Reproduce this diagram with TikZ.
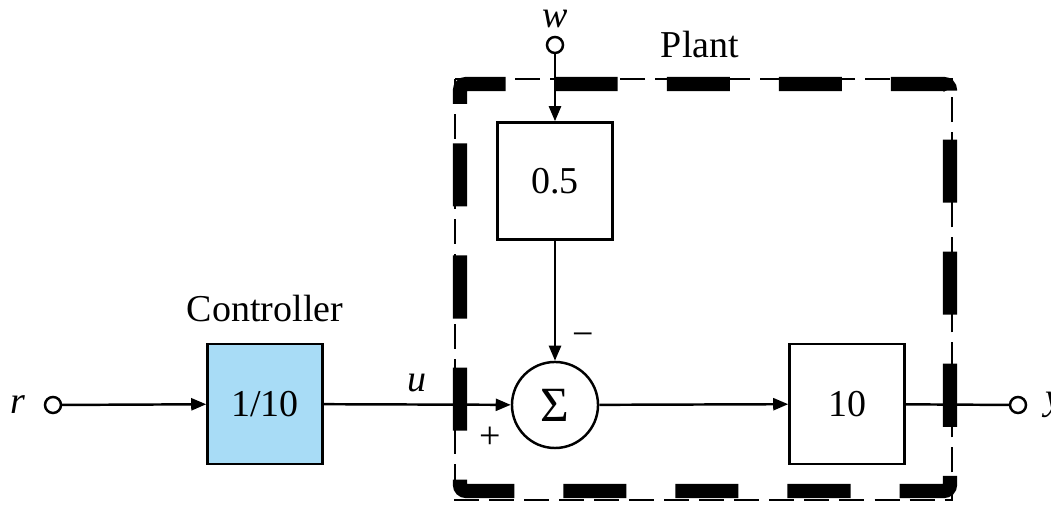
\documentclass[tikz,border=0pt]{standalone}
\usepackage{fontspec}
\setmainfont{Liberation Serif}
\usetikzlibrary{arrows.meta, positioning}
\definecolor{ctrlblue}{RGB}{168,220,246}

\begin{document}
\begin{tikzpicture}[x=0.01cm,y=-0.01cm,auto,font=\fontsize{10.8}{13}\selectfont,
  line width=0.7pt,
  blk/.style={draw,minimum width=1.15cm,minimum height=1.2cm,inner sep=0pt},
  term/.style={draw,circle,fill=white,minimum size=0.16cm,inner sep=0pt},
  sumnode/.style={draw,circle,minimum size=0.86cm,inner sep=0pt}]
\useasboundingbox (0,0) rectangle (1051,507);

\node[term] (R) at (53,405) {};
\node (Rl) [left=0.05cm of R] {\textit{r}};
\node[blk,fill=ctrlblue] (C) at (265,404) {1/10};
\node (Cl) [above=0.08cm of C] {Controller};
\node[sumnode] (S) at (555,405) {\fontsize{14}{16}\selectfont Σ};
\node[blk,minimum height=1.17cm] (H) at (555,181) {0.5};
\node[term] (W) at (555,45) {};
\node (Wl) [above=0.03cm of W,inner sep=1pt] {\textit{w}};
\node[blk] (G) at (847,404) {10};
\node[term] (Y) at (1018,405) {};
\node (Yl) [right=0.05cm of Y] {\textit{y}};
\node (P) at (700,45) {Plant};
\node (plus) at (490,438) {+};
\node (minus) at (583,340) {−};

\path[->, >={Triangle[length=0.15cm,width=0.12cm]}] (R) edge (C);
\path[->, >={Triangle[length=0.15cm,width=0.12cm]}] (C) edge node {\textit{u}} (S);
\path[->, >={Triangle[length=0.15cm,width=0.12cm]}] (W) edge (H);
\path[->, >={Triangle[length=0.15cm,width=0.12cm]}] (H) edge (S);
\path[->, >={Triangle[length=0.15cm,width=0.12cm]}] (S) edge (G);
\draw (G) -- (Y);

% plant boundary
\draw[dash pattern=on 0.25cm off 0.1cm] (455,79) rectangle (952,500);
\draw[line width=4pt, rounded corners=0.06cm, dash pattern=on 0.63cm off 0.49cm]
  (460,110) -- (460,84) -- (950,84) -- (950,491) -- (460,491) -- cycle;
\end{tikzpicture}
\end{document}
